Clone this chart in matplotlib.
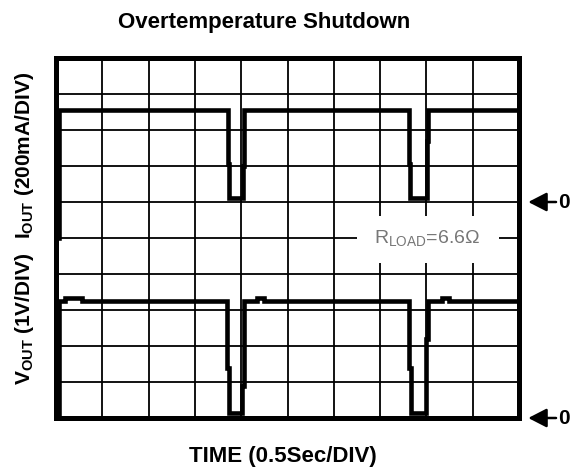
import matplotlib
matplotlib.use("Agg")
import matplotlib.pyplot as plt
from matplotlib.patches import Rectangle

plt.rcParams['font.family'] = ['Liberation Sans', 'DejaVu Sans']
plt.rcParams['mathtext.fontset'] = 'custom'
plt.rcParams['mathtext.rm'] = 'Liberation Sans'
plt.rcParams['mathtext.bf'] = 'Liberation Sans:bold'

# scope traces, in divisions (x: 0.5 s/div, y: screen divisions from bottom)
iout_t = [0.06, 0.06, 3.71, 3.71, 3.74, 3.74, 4.04, 4.04, 4.07, 4.07,
          7.62, 7.62, 7.65, 7.65, 8.01, 8.01, 8.04, 8.04, 10.0]
iout_y = [5.0, 8.56, 8.56, 7.05, 7.05, 6.10, 6.10, 7.0, 7.0, 8.56,
          8.56, 7.05, 7.05, 6.10, 6.10, 7.7, 7.7, 8.56, 8.56]

vout_t = [0.06, 0.06, 0.2, 0.2, 0.57, 0.57, 3.70, 3.70, 3.73, 3.73, 4.02, 4.02, 4.05, 4.05,
          4.35, 4.35, 4.5, 4.5, 7.63, 7.63, 7.66, 7.66, 7.99, 7.99, 8.03, 8.03,
          8.33, 8.33, 8.48, 8.48, 10.0]
vout_y = [0.0, 3.25, 3.25, 3.33, 3.33, 3.25, 3.25, 1.4, 1.4, 0.14, 0.14, 0.9, 0.9, 3.25,
          3.25, 3.33, 3.33, 3.25, 3.25, 1.4, 1.4, 0.14, 0.14, 2.2, 2.2, 3.25,
          3.25, 3.33, 3.33, 3.25, 3.25]

iout_zero = 6.0
vout_zero = 0.0

fig = plt.figure(figsize=(5.8, 4.72), dpi=100)
ax = fig.add_axes([56/580, 54/472, 463/580, 360/472])

ax.set_xlim(0, 10)
ax.set_ylim(0, 10)
ax.set_xticks(range(11))
ax.set_yticks(range(11))
ax.tick_params(length=0, labelbottom=False, labelleft=False)
ax.set_axisbelow(True)
ax.grid(True, color='black', lw=1.3)
for s in ax.spines.values():
    s.set_linewidth(3.6)

# blank patch behind the load label
ax.add_patch(Rectangle((6.5, 4.3), 3.06, 1.3, facecolor='white', edgecolor='none', zorder=1))
ax.text(8.02, 4.97, r'R$_{\mathrm{LOAD}}$=6.6$\Omega$', color='#777777', fontsize=14,
        ha='center', va='center', zorder=3)

ax.plot(iout_t, iout_y, color='black', lw=3.3, solid_joinstyle='miter', zorder=4)
ax.plot(vout_t, vout_y, color='black', lw=3.3, solid_joinstyle='miter', zorder=4)

# zero markers on the right
for z in [iout_zero, vout_zero]:
    ax.annotate('', xy=(10.2, z), xytext=(10.8, z),
                arrowprops=dict(arrowstyle='-|>,head_length=0.7,head_width=0.36',
                                mutation_scale=16, lw=1.8, color='black',
                                shrinkA=0, shrinkB=0),
                annotation_clip=False)
    ax.text(10.98, z, '0', fontsize=15, fontweight='bold', ha='center', va='center',
            clip_on=False)

fig.text(0.455, 0.953, 'Overtemperature Shutdown', fontsize=16, fontweight='bold',
         ha='center', va='center')
fig.text(0.487, 0.032, 'TIME (0.5Sec/DIV)', fontsize=16, fontweight='bold',
         ha='center', va='center')
fig.text(0.043, 0.325, r'$\mathbf{V_{OUT}}$ (1V/DIV)', fontsize=15, fontweight='bold',
         rotation=90, ha='center', va='center')
fig.text(0.043, 0.67, r'$\mathbf{I_{OUT}}$ (200mA/DIV)', fontsize=15, fontweight='bold',
         rotation=90, ha='center', va='center')

fig.savefig('out.png', dpi=100)
